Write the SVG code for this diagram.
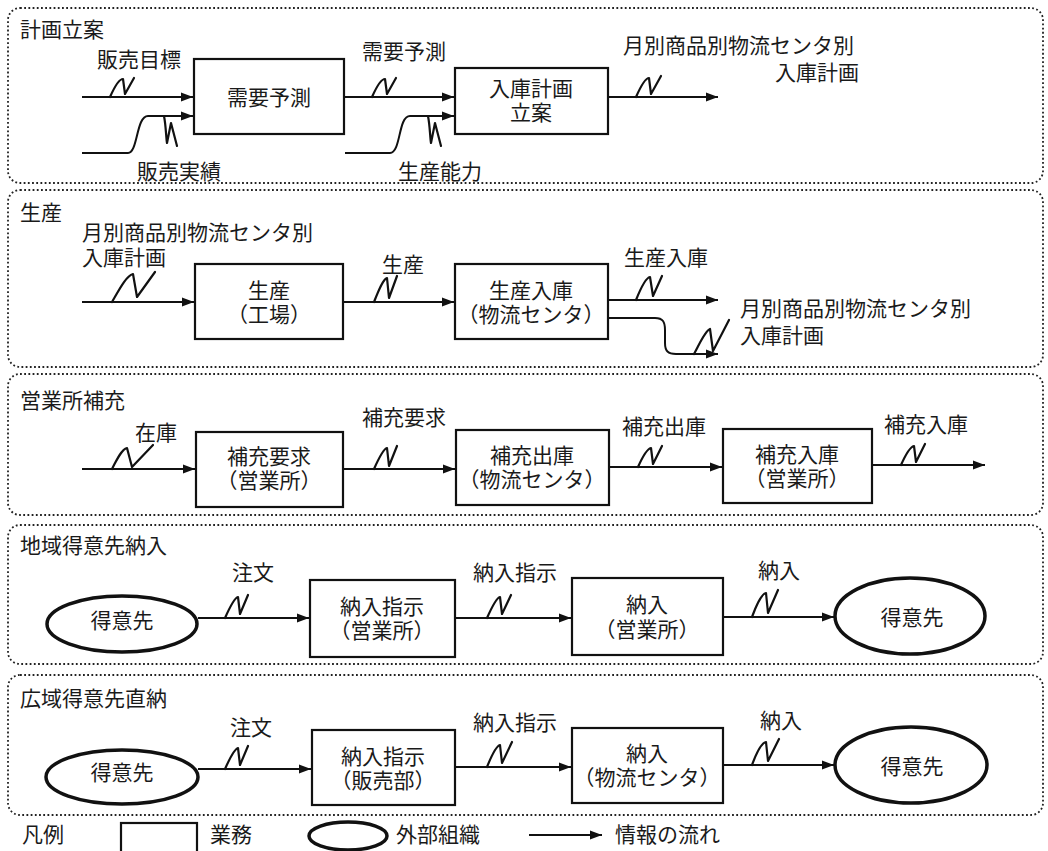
<svg xmlns="http://www.w3.org/2000/svg" width="1048" height="851" viewBox="0 0 1048 851">
<style>
.panel{fill:none;stroke:#222;stroke-width:1.8;stroke-dasharray:1.8 2.4}
.box{fill:#fff;stroke:#111;stroke-width:2.2}
.ell{fill:#fff;stroke:#111;stroke-width:3.5}
.ln{fill:none;stroke:#111;stroke-width:2}
.nn{fill:none;stroke:#111;stroke-width:2.2;stroke-linejoin:round;stroke-linecap:round}
text{font-family:"Liberation Sans","Noto Sans CJK JP",sans-serif;font-size:21px;fill:#1a1a1a}
.c{text-anchor:middle}
</style>
<defs>
<marker id="ah" markerUnits="userSpaceOnUse" markerWidth="13" markerHeight="10" refX="12" refY="5" orient="auto">
<path d="M0,0.5 L12,5 L0,9.5 z" fill="#111"/>
</marker>
</defs>
<rect width="1048" height="851" fill="#fff"/>

<g id="panels">
<rect class="panel" x="8" y="8" width="1035" height="175" rx="12"/>
<rect class="panel" x="8" y="190" width="1035" height="177" rx="12"/>
<rect class="panel" x="8" y="374" width="1035" height="141" rx="12"/>
<rect class="panel" x="8" y="525" width="1035" height="139" rx="12"/>
<rect class="panel" x="8" y="675" width="1035" height="140" rx="12"/>
<text x="20" y="37">計画立案</text>
<text x="20" y="220">生産</text>
<text x="20" y="408">営業所補充</text>
<text x="20" y="553">地域得意先納入</text>
<text x="20" y="706">広域得意先直納</text>
</g>

<g id="connectors">
<!-- panel 1 -->
<path class="ln" d="M82,97 H193" marker-end="url(#ah)"/>
<path class="ln" d="M82,153 H128 C138,153 136,116 148,116 H193" marker-end="url(#ah)"/>
<path class="ln" d="M344,97 H454" marker-end="url(#ah)"/>
<path class="ln" d="M345,153 H390 C401,153 398,116 410,116 H454" marker-end="url(#ah)"/>
<path class="ln" d="M608,97 H718" marker-end="url(#ah)"/>
<!-- panel 2 -->
<path class="ln" d="M82,302 H194" marker-end="url(#ah)"/>
<path class="ln" d="M343,302 H454" marker-end="url(#ah)"/>
<path class="ln" d="M608,300 H718" marker-end="url(#ah)"/>
<path class="ln" d="M608,318 H655 C663,318 665,322 665,330 V343 C665,351 668,354 676,354 H718" marker-end="url(#ah)"/>
<!-- panel 3 -->
<path class="ln" d="M82,469 H195" marker-end="url(#ah)"/>
<path class="ln" d="M343,469 H455" marker-end="url(#ah)"/>
<path class="ln" d="M609,467 H722" marker-end="url(#ah)"/>
<path class="ln" d="M872,465 H985" marker-end="url(#ah)"/>
<!-- panel 4 -->
<path class="ln" d="M198,618 H309" marker-end="url(#ah)"/>
<path class="ln" d="M455,618 H571" marker-end="url(#ah)"/>
<path class="ln" d="M723,617 H834" marker-end="url(#ah)"/>
<!-- panel 5 -->
<path class="ln" d="M198,769 H311" marker-end="url(#ah)"/>
<path class="ln" d="M455,767 H571" marker-end="url(#ah)"/>
<path class="ln" d="M723,765 H834" marker-end="url(#ah)"/>
<!-- info-flow marks -->
<path class="nn" d="M110,97 C114,88 119,79 123,79 L125,94 L134,78"/>
<path class="nn" d="M164,116 C166,126 166,137 167,143 L171,123 L177,146"/>
<path class="nn" d="M372,97 C376,88 381,79 385,79 L387,94 L396,78"/>
<path class="nn" d="M428,116 C430,126 430,137 431,143 L435,123 L441,146"/>
<path class="nn" d="M636,97 C640,88 645,78 649,78 L651,94 L661,76"/>
<path class="nn" d="M112,302 C119,290 126,276 133,274 L137,297 L155,272"/>
<path class="nn" d="M374,302 C378,292 383,279 387,278 L389,298 L397,276"/>
<path class="nn" d="M636,300 C640,290 645,278 650,277 L653,296 L662,276"/>
<path class="nn" d="M694,354 C700,343 705,331 710,329 L713,351 L729,320"/>
<path class="nn" d="M112,469 C117,459 122,449 127,448 L132,467 L153,445"/>
<path class="nn" d="M374,469 C378,460 383,449 387,448 L389,466 L397,446"/>
<path class="nn" d="M638,467 C642,458 647,449 651,448 L653,464 L662,446"/>
<path class="nn" d="M901,465 C905,456 910,447 914,446 L916,462 L925,444"/>
<path class="nn" d="M225,618 C229,609 234,598 238,597 L240,614 L248,595"/>
<path class="nn" d="M487,618 C491,609 496,598 500,597 L502,614 L511,595"/>
<path class="nn" d="M752,617 C756,606 761,594 766,593 L768,613 L778,590"/>
<path class="nn" d="M225,769 C229,760 234,749 238,748 L240,765 L248,746"/>
<path class="nn" d="M487,767 C491,757 496,746 500,745 L502,763 L512,742"/>
<path class="nn" d="M752,765 C756,754 761,743 766,742 L768,761 L779,739"/>
</g>

<g id="labels">
<text x="97" y="67">販売目標</text>
<text x="137" y="179">販売実績</text>
<text x="362" y="59">需要予測</text>
<text x="398" y="179">生産能力</text>
<text><tspan x="623" y="53">月別商品別物流センタ別</tspan><tspan x="775" y="80">入庫計画</tspan></text>
<text><tspan x="82" y="240">月別商品別物流センタ別</tspan><tspan x="82" y="265">入庫計画</tspan></text>
<text x="382" y="272">生産</text>
<text x="624" y="265">生産入庫</text>
<text><tspan x="740" y="316">月別商品別物流センタ別</tspan><tspan x="740" y="343">入庫計画</tspan></text>
<text x="135" y="440">在庫</text>
<text x="362" y="425">補充要求</text>
<text x="622" y="434">補充出庫</text>
<text x="884" y="432">補充入庫</text>
<text x="232" y="580">注文</text>
<text x="473" y="580">納入指示</text>
<text x="758" y="578">納入</text>
<text x="230" y="735">注文</text>
<text x="473" y="730">納入指示</text>
<text x="760" y="728">納入</text>
</g>

<g id="n-juyo"><rect class="box" x="194" y="59" width="150" height="75"/><text class="c" x="269" y="105">需要予測</text></g>
<g id="n-nyuko-keikaku"><rect class="box" x="455" y="68" width="153" height="66"/><text class="c"><tspan x="531" y="96">入庫計画</tspan><tspan x="531" y="120">立案</tspan></text></g>
<g id="n-seisan"><rect class="box" x="195" y="264" width="148" height="75"/><text class="c"><tspan x="269" y="298">生産</tspan><tspan x="269" y="322">（工場）</tspan></text></g>
<g id="n-seisan-nyuko"><rect class="box" x="455" y="264" width="153" height="75"/><text class="c"><tspan x="531" y="298">生産入庫</tspan><tspan x="531" y="322">（物流センタ）</tspan></text></g>
<g id="n-hoju-yokyu"><rect class="box" x="196" y="432" width="147" height="75"/><text class="c"><tspan x="269" y="464">補充要求</tspan><tspan x="269" y="488">（営業所）</tspan></text></g>
<g id="n-hoju-shukko"><rect class="box" x="456" y="430" width="153" height="75"/><text class="c"><tspan x="532" y="463">補充出庫</tspan><tspan x="532" y="487">（物流センタ）</tspan></text></g>
<g id="n-hoju-nyuko"><rect class="box" x="723" y="429" width="149" height="74"/><text class="c"><tspan x="797" y="462">補充入庫</tspan><tspan x="797" y="486">（営業所）</tspan></text></g>
<g id="n-tokui1"><ellipse class="ell" cx="122" cy="624" rx="75" ry="28"/><text class="c" x="122" y="628">得意先</text></g>
<g id="n-nonyu-shiji1"><rect class="box" x="310" y="580" width="145" height="77"/><text class="c"><tspan x="382" y="614">納入指示</tspan><tspan x="382" y="638">（営業所）</tspan></text></g>
<g id="n-nonyu1"><rect class="box" x="572" y="578" width="151" height="77"/><text class="c"><tspan x="647" y="612">納入</tspan><tspan x="647" y="637">（営業所）</tspan></text></g>
<g id="n-tokui2"><ellipse class="ell" cx="910" cy="616" rx="75" ry="38"/><text class="c" x="912" y="625">得意先</text></g>
<g id="n-tokui3"><ellipse class="ell" cx="122" cy="777" rx="76" ry="27"/><text class="c" x="122" y="780">得意先</text></g>
<g id="n-nonyu-shiji2"><rect class="box" x="312" y="730" width="143" height="75"/><text class="c"><tspan x="383" y="764">納入指示</tspan><tspan x="383" y="788">（販売部）</tspan></text></g>
<g id="n-nonyu2"><rect class="box" x="572" y="728" width="151" height="75"/><text class="c"><tspan x="647" y="761">納入</tspan><tspan x="647" y="785">（物流センタ）</tspan></text></g>
<g id="n-tokui4"><ellipse class="ell" cx="911" cy="765" rx="76" ry="38"/><text class="c" x="912" y="774">得意先</text></g>

<g id="legend">
<text x="22" y="842">凡例</text>
<rect class="box" x="121" y="823" width="76" height="40"/>
<text x="210" y="842">業務</text>
<ellipse class="ell" cx="348" cy="836" rx="39" ry="14"/>
<text x="396" y="842">外部組織</text>
<path class="ln" d="M529,835 H602" marker-end="url(#ah)"/>
<text x="615" y="842">情報の流れ</text>
</g>
</svg>
